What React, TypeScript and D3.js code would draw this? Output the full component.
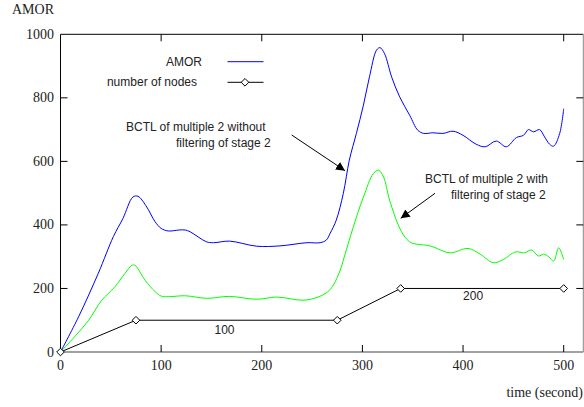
import React from "react";
import * as d3 from "d3";

const amorT = [0, 18, 37.6, 52.5, 62, 72, 77, 85, 94, 100, 107, 118, 124, 129, 145, 152, 168, 195, 218, 245, 258, 264, 268, 274, 281, 287, 294, 301, 307, 314, 317.5, 322, 329, 337, 347, 355, 361, 370, 380, 390, 400, 413, 422, 433, 443, 453, 460, 465, 470, 476, 481, 486, 490, 496, 500];
const amorV = [0, 111, 248, 363, 420, 488, 490, 460, 410, 389, 381, 384, 384, 378, 347, 344, 349, 333, 334, 344, 344, 352, 374, 415, 499, 604, 688, 777, 866, 950, 958, 939, 866, 803, 745, 698, 688, 690, 688, 695, 682, 654, 646, 664, 646, 675, 682, 700, 693, 700, 677, 654, 648, 688, 766];

const filtT = [0, 14, 28, 41, 54, 64, 71, 74, 84, 94, 100, 107, 124, 145, 168, 195, 215, 241, 255, 265, 271, 278, 281, 291, 301, 311, 316, 321, 327, 337, 344, 350, 357, 364, 371, 387, 405, 417, 430, 440, 452, 461, 468, 475, 480, 485, 490, 495, 500];
const filtV = [0, 48, 100, 163, 205, 247, 273, 273, 226, 190, 176, 174, 177, 169, 175, 166, 173, 163, 172, 188, 210, 258, 289, 394, 488, 562, 572, 551, 478, 390, 355, 342, 338, 336, 330, 312, 326, 308, 281, 291, 315, 312, 321, 302, 308, 300, 286, 328, 291];

const nodeT = [0, 75, 275, 338, 500];
const nodeV = [0, 100, 100, 200, 200];

const xTicks = [0, 100, 200, 300, 400, 500];
const yTicks = [0, 200, 400, 600, 800, 1000];

const nodeLabels = [
  { t: 163, v: 100, text: "100" },
  { t: 410, v: 200, text: "200" },
];

export default function App() {
  const left = 60.5, right = 583.3, top = 34.3, bottom = 352;
  const x = d3.scaleLinear().domain([0, 520]).range([left, left + 520 * 1.0064]);
  const y = d3.scaleLinear().domain([0, 1000]).range([bottom, top]);

  const line = d3
    .line<[number, number]>()
    .x((d) => x(d[0]))
    .y((d) => y(d[1]))
    .curve(d3.curveCatmullRom.alpha(0.5));
  const straight = d3
    .line<[number, number]>()
    .x((d) => x(d[0]))
    .y((d) => y(d[1]));

  const amor = amorT.map((t, i) => [t, amorV[i]] as [number, number]);
  const filt = filtT.map((t, i) => [t, filtV[i]] as [number, number]);
  const nodes = nodeT.map((t, i) => [t, nodeV[i]] as [number, number]);

  const serif = "'Liberation Serif', 'Times New Roman', serif";
  const sans = "'Liberation Sans', Arial, sans-serif";
  const diamond = (cx: number, cy: number, r = 3.8) =>
    `M${cx},${cy - r}L${cx + r},${cy}L${cx},${cy + r}L${cx - r},${cy}Z`;

  return (
    <svg
      width={584}
      height={407}
      style={{ position: "absolute", left: 0, top: 0, background: "#fff" }}
    >
      <defs>
        <marker id="ah" viewBox="0 0 10 10" refX="10" refY="5" markerWidth="9" markerHeight="9" orient="auto" markerUnits="userSpaceOnUse">
          <path d="M0,0L10,5L0,10Z" fill="#000" />
        </marker>
      </defs>
      <rect x={0} y={0} width={584} height={407} fill="#fff" />

      {/* frame */}
      <line x1={left} y1={top} x2={right} y2={top} stroke="#000" strokeWidth={1} />
      <line x1={left} y1={top} x2={left} y2={bottom} stroke="#000" strokeWidth={1} />
      <line x1={left} y1={bottom} x2={right} y2={bottom} stroke="#444" strokeWidth={1.2} />
      <line x1={right} y1={top} x2={right} y2={bottom} stroke="#888" strokeWidth={1} />

      {/* ticks */}
      {xTicks.filter((t) => t > 0).map((t) => (
        <g key={"xt" + t}>
          <line x1={x(t)} y1={bottom} x2={x(t)} y2={bottom - 7} stroke="#000" />
          <line x1={x(t)} y1={top} x2={x(t)} y2={top + 7} stroke="#000" />
        </g>
      ))}
      {yTicks.filter((v) => v > 0 && v < 1000).map((v) => (
        <g key={"yt" + v}>
          <line x1={left} y1={y(v)} x2={left + 7} y2={y(v)} stroke="#000" />
          <line x1={right} y1={y(v)} x2={right - 7} y2={y(v)} stroke="#000" />
        </g>
      ))}
      {xTicks.map((t) => (
        <text key={"xl" + t} x={x(t)} y={370} textAnchor="middle" fontFamily={serif} fontSize={14} fill="#222">
          {t}
        </text>
      ))}
      {yTicks.map((v) => (
        <text key={"yl" + v} x={54} y={y(v) + 4.5} textAnchor="end" fontFamily={serif} fontSize={14} fill="#222">
          {v}
        </text>
      ))}
      <text x={12} y={14} fontFamily={serif} fontSize={14} fill="#222">AMOR</text>
      <text x={583} y={397} textAnchor="end" fontFamily={serif} fontSize={14} fill="#222">time (second)</text>

      {/* series */}
      <path d={line(filt) || ""} fill="none" stroke="#00ff00" strokeWidth={1} />
      <path d={line(amor) || ""} fill="none" stroke="#0000ff" strokeWidth={1} />
      <path d={straight(nodes) || ""} fill="none" stroke="#000" strokeWidth={1} />
      {nodes.map((d, i) => (
        <path key={"n" + i} d={diamond(x(d[0]), y(d[1]))} fill="#fff" stroke="#000" strokeWidth={1} />
      ))}
      {nodeLabels.map((l, i) => (
        <text key={l.text} x={x(l.t)} y={y(l.v) + (i === 0 ? 14 : 12)} textAnchor="middle" fontFamily={sans} fontSize={12} fill="#222">
          {l.text}
        </text>
      ))}

      {/* legend */}
      <text x={202} y={66} textAnchor="end" fontFamily={sans} fontSize={12} fill="#222">AMOR</text>
      <line x1={227.5} y1={61.7} x2={263.5} y2={61.7} stroke="#0000ff" strokeWidth={1} />
      <text x={197} y={86} textAnchor="end" fontFamily={sans} fontSize={12} fill="#222">number of nodes</text>
      <line x1={227.5} y1={82.3} x2={263.5} y2={82.3} stroke="#000" strokeWidth={1} />
      <path d={diamond(245, 82.3)} fill="#fff" stroke="#000" strokeWidth={1} />

      {/* annotations */}
      <text x={126} y={131} fontFamily={sans} fontSize={12} fill="#222">BCTL of multiple 2 without</text>
      <text x={176} y={146.5} fontFamily={sans} fontSize={12} fill="#222">filtering of stage 2</text>
      <line x1={291.7} y1={135} x2={345} y2={170.7} stroke="#000" strokeWidth={1} markerEnd="url(#ah)" />
      <text x={425} y={183} fontFamily={sans} fontSize={12} fill="#222">BCTL of multiple 2 with</text>
      <text x={451} y={198.5} fontFamily={sans} fontSize={12} fill="#222">filtering of stage 2</text>
      <line x1={435} y1={193.3} x2={400.7} y2={218.3} stroke="#000" strokeWidth={1} markerEnd="url(#ah)" />
    </svg>
  );
}
